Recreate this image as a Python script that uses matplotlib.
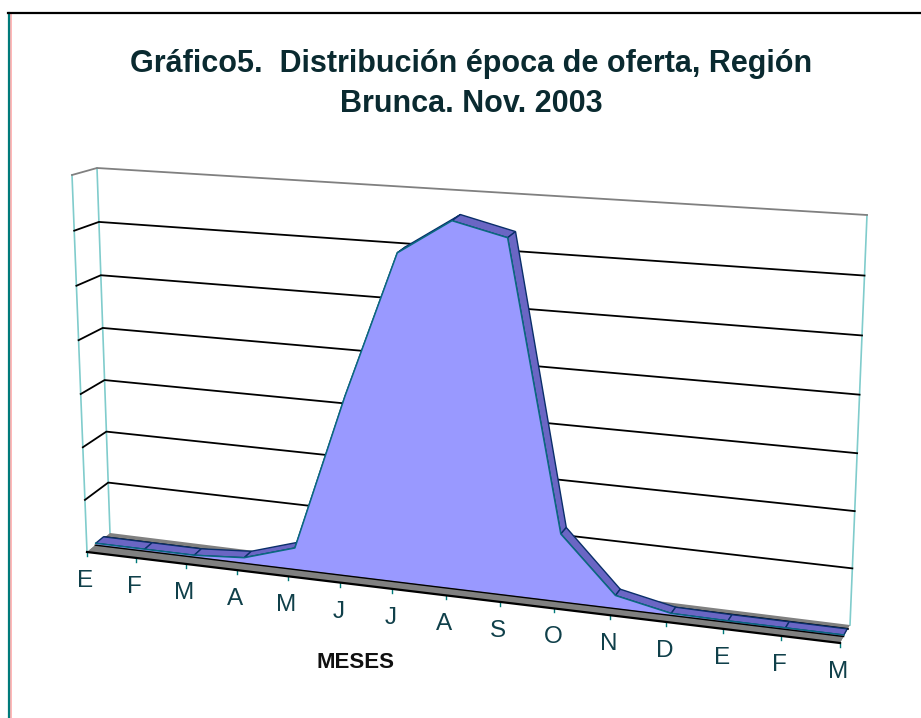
import numpy as np
import matplotlib
matplotlib.use('Agg')
import matplotlib.pyplot as plt

meses = ['E', 'F', 'M', 'A', 'M', 'J', 'J', 'A', 'S', 'O', 'N', 'D', 'E', 'F', 'M']
oferta = [0.03, 0.03, 0.03, 0.1, 0.4, 3.3, 5.93, 6.55, 6.32, 1.22, 0.23, 0.03, 0.02, 0.02, 0.02]
niveles = [0, 1, 2, 3, 4, 5, 6, 7]

titulo = 'Gráfico5.  Distribución época de oferta, Región'
titulo2 = 'Brunca. Nov. 2003'
eje_x = 'MESES'

# esquinas de la caja 3D en pixeles (u, v, w)
caja = {
    (0, 0, 0): (87, 552), (1, 0, 0): (840, 643),
    (0, 1, 0): (72, 175), (1, 1, 0): (855, 221),
    (0, 0, 1): (110, 533), (1, 0, 1): (850, 625),
    (0, 1, 1): (97, 168), (1, 1, 1): (867, 215),
}
persp = 1.1
persp_v = 1.04
w_frente = 0.38
w_fondo = 0.72


def proyectar(i, v, w):
    # perspectiva en los ejes + interpolacion entre esquinas
    t = np.asarray(i, dtype=float) / (len(meses) - 1)
    u = t / (t + (1 - t) * persp)
    r = np.asarray(v, dtype=float) / niveles[-1]
    h = r / (r + (1 - r) * persp_v)
    x = 0
    y = 0
    for (a, b, c), (px, py) in caja.items():
        peso = (u if a else 1 - u) * (h if b else 1 - h) * (w if c else 1 - w)
        x = x + peso * px
        y = y + peso * py
    return x, y


fig = plt.figure(figsize=(9.21, 7.18), dpi=100)
ax = fig.add_axes([0, 0, 1, 1])
ax.set_xlim(0, 921)
ax.set_ylim(718, 0)
ax.axis('off')

# marco
ax.plot([11, 11], [14, 718], color='#ffaaaa', lw=1.2)
ax.plot([9, 9], [13, 718], color='#007a7a', lw=1.6)
ax.plot([8, 921], [13, 13], color='black', lw=1.6)

idx = np.arange(len(meses))
ultimo = idx[-1]
valores = np.array(oferta)

# rejilla
for n in niveles[1:]:
    color = '#808080' if n == niveles[-1] else 'black'
    xs, ys = proyectar(np.array([0, 0, ultimo]), n, np.array([0.0, 1.0, 1.0]))
    ax.plot(xs, ys, color=color, lw=1.3)

# paredes
for i, w in [(0, 0.0), (0, 1.0), (ultimo, 1.0)]:
    xs, ys = proyectar(np.array([i, i]), np.array([0, niveles[-1]]), w)
    ax.plot(xs, ys, color='#80cccc', lw=1.2, zorder=1)

# piso
xa, ya = proyectar(np.array([0, ultimo]), 0, 0.0)
xb, yb = proyectar(np.array([ultimo, 0]), 0, 1.0)
ax.fill(np.r_[xa, xb], np.r_[ya, yb], color='#808080', lw=0, zorder=2)
xs, ys = proyectar(np.array([0, ultimo]), 0, w_fondo + 0.06)
ax.plot(xs, ys, color='black', lw=1.4, zorder=2)

# marcas del eje
for i in idx:
    xs, ys = proyectar(np.array([i, i]), 0, 0.0)
    ax.plot(xs, [ys[0], ys[0] + 4], color='#007a7a', lw=1, zorder=2)

# franja superior del area (profundidad), mas ancha arriba como en el original
x_f, y_f = proyectar(idx, valores, w_frente)
x_b, y_b = proyectar(idx, valores, w_fondo + 0.12 * valores / niveles[-1])
y_b = y_b - 3 * valores / niveles[-1]
for k in range(len(idx) - 1):
    ax.fill([x_f[k], x_f[k + 1], x_b[k + 1], x_b[k]],
            [y_f[k], y_f[k + 1], y_b[k + 1], y_b[k]],
            facecolor='#6a66c4', edgecolor='#0a2f6a', lw=1.0, zorder=3)

# cara frontal
x0, y0 = proyectar(idx, 0, w_frente)
ax.fill(np.r_[x_f, x0[::-1]], np.r_[y_f, y0[::-1]], facecolor='#9999ff', edgecolor='none', zorder=4)
ax.plot(x_f, y_f, color='#0a6a80', lw=1.1, zorder=5)

# franja del piso delante del area
xa2, ya2 = proyectar(np.array([0, ultimo]), 0, 0.0)
xb2, yb2 = proyectar(np.array([ultimo, 0]), 0, w_frente - 0.02)
ax.fill(np.r_[xa2, xb2], np.r_[ya2, yb2], color='#808080', lw=0, zorder=6)
for w, grosor in [(0.0, 1.6), (w_frente - 0.02, 1.0)]:
    xs, ys = proyectar(np.array([0, ultimo]), 0, w)
    ax.plot(xs, ys, color='black', lw=grosor, zorder=6)

# etiquetas
for i, m in zip(idx, meses):
    x, y = proyectar(i, 0, 0.0)
    ax.text(x - 1.5, y + 29, m, ha='center', va='center', fontsize=17.5,
            family='Liberation Sans', color='#10404a')

ax.text(355, 662, eje_x, ha='center', va='center', fontsize=16, fontweight='bold',
        family='Liberation Sans', color='#101010')
ax.text(471, 64, titulo, ha='center', va='center', fontsize=22, fontweight='bold',
        family='Liberation Sans', color='#0a2a30')
ax.text(471, 104, titulo2, ha='center', va='center', fontsize=22, fontweight='bold',
        family='Liberation Sans', color='#0a2a30')

fig.savefig('out.png', dpi=100)
